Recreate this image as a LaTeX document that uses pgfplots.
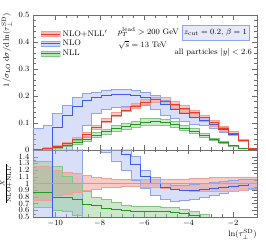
\documentclass[border=0pt]{standalone}
\usepackage{pgfplots}
\pgfplotsset{compat=1.18}
\usepackage{pgfplotstable}
\usepgfplotslibrary{fillbetween}
\definecolor{cred}{RGB}{232,62,40}
\definecolor{cblue}{RGB}{55,95,232}
\definecolor{cgreen}{RGB}{35,150,35}
\definecolor{fred}{RGB}{240,140,130}
\definecolor{fblue}{RGB}{170,185,240}
\definecolor{fgreen}{RGB}{140,205,140}
\definecolor{ered}{RGB}{242,160,150}
\definecolor{eblue}{RGB}{140,165,240}
\definecolor{egreen}{RGB}{130,200,130}
\definecolor{frame}{RGB}{110,110,110}

\pgfplotstableread{
x Rc Rl Rh Bc Bl Bh Gc Gl Gh
-11.00 0.003 0.002 0.004 -0.04 -0.30 0.080 0.002 0.0015 0.003
-10.56 0.008 0.006 0.010 -0.02 -0.20 0.093 0.006 0.004 0.008
-10.12 0.015 0.012 0.018 0.085 -0.05 0.135 0.011 0.008 0.015
-9.68 0.025 0.021 0.029 0.130 -0.01 0.167 0.019 0.014 0.025
-9.24 0.040 0.035 0.046 0.160 0.03 0.195 0.029 0.022 0.036
-8.80 0.058 0.052 0.065 0.183 0.09 0.210 0.040 0.032 0.048
-8.36 0.083 0.076 0.091 0.195 0.135 0.215 0.055 0.046 0.064
-7.92 0.108 0.102 0.117 0.203 0.152 0.222 0.068 0.058 0.078
-7.48 0.130 0.124 0.139 0.206 0.160 0.225 0.080 0.069 0.091
-7.04 0.148 0.142 0.157 0.205 0.162 0.225 0.088 0.077 0.100
-6.60 0.163 0.156 0.173 0.202 0.165 0.222 0.096 0.085 0.108
-6.16 0.178 0.169 0.189 0.196 0.165 0.215 0.104 0.092 0.116
-5.72 0.186 0.175 0.197 0.186 0.152 0.203 0.105 0.093 0.117
-5.28 0.182 0.169 0.195 0.168 0.130 0.185 0.102 0.090 0.114
-4.84 0.170 0.155 0.182 0.150 0.117 0.166 0.095 0.084 0.106
-4.40 0.155 0.140 0.166 0.137 0.108 0.152 0.082 0.072 0.092
-3.96 0.138 0.123 0.149 0.122 0.097 0.135 0.070 0.061 0.079
-3.52 0.120 0.106 0.130 0.110 0.090 0.120 0.056 0.049 0.063
-3.08 0.101 0.089 0.110 0.094 0.080 0.102 0.040 0.035 0.045
-2.64 0.080 0.070 0.087 0.077 0.066 0.083 0.027 0.024 0.031
-2.20 0.062 0.055 0.068 0.059 0.053 0.063 0.016 0.014 0.018
-1.76 0.037 0.033 0.041 0.036 0.033 0.039 0.007 0.006 0.008
-1.32 0.005 0.0046 0.0055 0.005 0.004 0.006 0.002 0.0015 0.0025
-0.88 0.005 0.0046 0.0055 0.005 0.004 0.006 0.002 0.0015 0.0025
}\topdata

\pgfplotstableread{
x rRc rRl rRh rBc rBl rBh rGc rGl rGh
-11.00 1 0.75 1.25 0.30 0.0 3.0 0.87 0.64 1.33
-10.56 1 0.75 1.25 0.20 0.0 3.0 0.87 0.64 1.33
-10.12 1 0.82 1.20 3.0 0.0 5.0 0.79 0.60 1.25
-9.68 1 0.84 1.17 3.0 0.0 5.0 0.79 0.59 1.11
-9.24 1 0.87 1.15 2.5 0.3 4.0 0.76 0.52 1.01
-8.80 1 0.90 1.12 2.2 1.6 3.0 0.69 0.45 0.89
-8.36 1 0.92 1.10 2.0 1.6 2.5 0.67 0.42 0.79
-7.92 1 0.94 1.08 1.85 1.47 2.2 0.63 0.40 0.77
-7.48 1 0.95 1.07 1.60 1.33 1.75 0.62 0.40 0.72
-7.04 1 0.96 1.06 1.43 1.20 1.55 0.60 0.40 0.68
-6.60 1 0.96 1.06 1.28 1.05 1.40 0.59 0.40 0.66
-6.16 1 0.95 1.06 1.11 0.93 1.20 0.59 0.40 0.66
-5.72 1 0.94 1.06 1.01 0.82 1.09 0.58 0.40 0.66
-5.28 1 0.93 1.07 0.94 0.76 1.01 0.58 0.40 0.65
-4.84 1 0.91 1.07 0.91 0.74 0.98 0.57 0.40 0.64
-4.40 1 0.90 1.07 0.90 0.75 0.98 0.55 0.40 0.62
-3.96 1 0.89 1.08 0.90 0.77 0.99 0.52 0.40 0.59
-3.52 1 0.88 1.08 0.92 0.79 1.00 0.49 0.40 0.54
-3.08 1 0.88 1.09 0.93 0.82 1.02 0.45 0.35 0.50
-2.64 1 0.88 1.09 0.95 0.85 1.03 0.40 0.30 0.45
-2.20 1 0.89 1.10 0.96 0.88 1.05 0.30 0.25 0.35
-1.76 1 0.90 1.10 0.98 0.90 1.06 0.20 0.15 0.25
-1.32 1 0.92 1.10 1.00 0.93 1.07 0.20 0.15 0.25
-0.88 1 0.92 1.10 1.00 0.93 1.07 0.20 0.15 0.25
}\ratiodata

\pgfplotsset{
  common/.style={
    scale only axis, width=224pt,
    xmin=-11, xmax=-0.92,
    axis line style={frame}, tick style={frame},
    major tick length=4.5pt, minor tick length=2.5pt,
    xtick={-10,-8,-6,-4,-2}, minor x tick num=3, minor y tick num=4,
    tick label style={font=\footnotesize},
    every tick label/.append style={text=black},
  },
  bandedge/.style={const plot, forget plot, line width=0.5pt},
}

\begin{document}
\begin{tikzpicture}
\begin{axis}[common, name=top, height=135pt, at={(0,0)}, anchor=south west,
  ymin=0, ymax=0.5, ytick={0,0.1,0.2,0.3,0.4,0.5},
  xticklabels={},
  ylabel={$1/\sigma_{\rm LO}\,{\rm d}\sigma/{\rm d}\ln(\tau_\perp^{\rm SD})$},
  ylabel style={at={(ticklabel cs:0.74)}, font=\footnotesize},
  legend style={draw=none, fill=none, at={(rel axis cs:0.035,0.905)}, anchor=north west, font=\footnotesize, row sep=-1.5pt, inner sep=0pt},
  legend cell align=left]
% blue band
\addplot[bandedge, name path=bh, eblue] table[x=x,y=Bh]{\topdata};
\addplot[bandedge, name path=bl, eblue] table[x=x,y=Bl]{\topdata};
\addplot[fblue, fill opacity=0.45, forget plot] fill between[of=bh and bl];
% red band
\addplot[bandedge, name path=rh, ered] table[x=x,y=Rh]{\topdata};
\addplot[bandedge, name path=rl, ered] table[x=x,y=Rl]{\topdata};
\addplot[fred, fill opacity=0.45, forget plot] fill between[of=rh and rl];
% green band
\addplot[bandedge, name path=gh, egreen] table[x=x,y=Gh]{\topdata};
\addplot[bandedge, name path=gl, egreen] table[x=x,y=Gl]{\topdata};
\addplot[fgreen, fill opacity=0.45, forget plot] fill between[of=gh and gl];
% central lines
\addplot[const plot, forget plot, cgreen, semithick] table[x=x,y=Gc]{\topdata};
\addplot[const plot, forget plot, cblue, semithick] table[x=x,y=Bc]{\topdata};
\addplot[const plot, forget plot, cred, semithick] table[x=x,y=Rc]{\topdata};
\draw[black, semithick] (rel axis cs:0,0) -- (rel axis cs:1,0);
\addlegendimage{legend image code/.code={\fill[fred,opacity=0.55] (0pt,-2.5pt) rectangle (19pt,2.5pt); \draw[ered] (0pt,-2.5pt)--(19pt,-2.5pt) (0pt,2.5pt)--(19pt,2.5pt); \draw[cred,semithick] (0pt,0pt)--(19pt,0pt);}}
\addlegendentry{NLO+NLL$'$}
\addlegendimage{legend image code/.code={\fill[fblue,opacity=0.55] (0pt,-2.5pt) rectangle (19pt,2.5pt); \draw[eblue] (0pt,-2.5pt)--(19pt,-2.5pt) (0pt,2.5pt)--(19pt,2.5pt); \draw[cblue,semithick] (0pt,0pt)--(19pt,0pt);}}
\addlegendentry{NLO}
\addlegendimage{legend image code/.code={\fill[fgreen,opacity=0.55] (0pt,-2.5pt) rectangle (19pt,2.5pt); \draw[egreen] (0pt,-2.5pt)--(19pt,-2.5pt) (0pt,2.5pt)--(19pt,2.5pt); \draw[cgreen,semithick] (0pt,0pt)--(19pt,0pt);}}
\addlegendentry{NLL}
\node[anchor=west, font=\footnotesize, inner sep=0pt] at (rel axis cs:0.378,0.874) {$p_T^{\rm lead} > 200$ GeV};
\node[anchor=west, font=\footnotesize, inner sep=0pt] at (rel axis cs:0.38,0.776) {$\sqrt{s} = 13$ TeV};
\node[draw=eblue, fill=fblue!30, font=\footnotesize, inner sep=2pt, minimum width=65pt, minimum height=15pt] at (rel axis cs:0.815,0.87) {$z_{\rm cut} = 0.2,\,\beta = 1$};
\node[anchor=east, font=\footnotesize, inner sep=0pt] at (rel axis cs:0.978,0.72) {all particles $|y| < 2.6$};
\end{axis}

\begin{axis}[common, name=bot, at={(top.south west)}, anchor=north west, height=67pt,
  ymin=0.5, ymax=1.5, ytick={0.5,0.6,0.7,0.8,0.9,1,1.1,1.2,1.3,1.4},
  minor y tick num=1,
  xlabel={$\ln(\tau_\perp^{\rm SD})$},
  xlabel style={at={(rel axis cs:1,0)}, anchor=north east, font=\footnotesize, inner sep=0pt, yshift=-12.5pt},
  ylabel={$\frac{X}{\rm NLO+NLL'}$},
  ylabel style={font=\footnotesize}]
\addplot[bandedge, name path=rbh, eblue] table[x=x,y=rBh]{\ratiodata};
\addplot[bandedge, name path=rbl, eblue] table[x=x,y=rBl]{\ratiodata};
\addplot[fblue, fill opacity=0.45, forget plot] fill between[of=rbh and rbl];
\addplot[bandedge, name path=rrh, ered] table[x=x,y=rRh]{\ratiodata};
\addplot[bandedge, name path=rrl, ered] table[x=x,y=rRl]{\ratiodata};
\addplot[fred, fill opacity=0.45, forget plot] fill between[of=rrh and rrl];
\addplot[bandedge, name path=rgh, egreen] table[x=x,y=rGh]{\ratiodata};
\addplot[bandedge, name path=rgl, egreen] table[x=x,y=rGl]{\ratiodata};
\addplot[fgreen, fill opacity=0.45, forget plot] fill between[of=rgh and rgl];
\addplot[const plot, forget plot, cgreen, semithick] table[x=x,y=rGc]{\ratiodata};
\addplot[const plot, forget plot, cblue, semithick] table[x=x,y=rBc]{\ratiodata};
\addplot[const plot, forget plot, fred, line width=1.4pt] table[x=x,y=rRc]{\ratiodata};
\end{axis}
\pgfresetboundingbox
\path[use as bounding box] ([xshift=-33pt,yshift=15pt]top.north west) rectangle ([xshift=9pt,yshift=-23.5pt]bot.south east);
\end{tikzpicture}
\end{document}
